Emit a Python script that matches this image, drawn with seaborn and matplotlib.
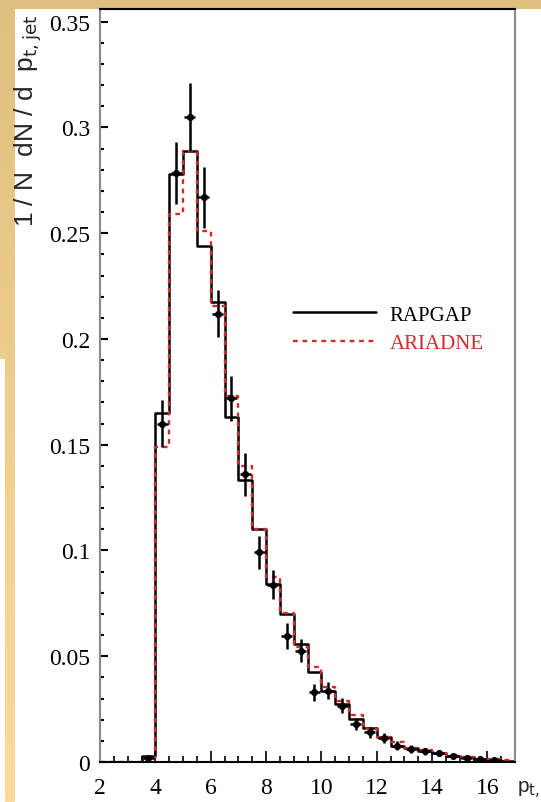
import numpy as np
import pandas as pd
import matplotlib
matplotlib.use("Agg")
import matplotlib.pyplot as plt
import seaborn as sns
from matplotlib.ticker import MultipleLocator, FuncFormatter
from matplotlib.lines import Line2D
from matplotlib.patches import Rectangle

# ==========================
# data
# ==========================
bin_edges = np.arange(2.0, 17.01, 0.5)

rapgap = [0, 0, 0, 0.003,
          0.165, 0.278, 0.289, 0.244, 0.2175, 0.163, 0.1335, 0.110,
          0.084, 0.070, 0.056, 0.0425, 0.0335, 0.0275, 0.0205, 0.016,
          0.0118, 0.0078, 0.0066, 0.0050, 0.0042, 0.0030, 0.0024, 0.0016,
          0.0011, 0.0006]
ariadne = [0, 0, 0, 0.002,
           0.149, 0.259, 0.289, 0.251, 0.2155, 0.173, 0.140, 0.110,
           0.0875, 0.0705, 0.0545, 0.045, 0.0353, 0.029, 0.0222, 0.0156,
           0.0118, 0.0096, 0.0068, 0.0056, 0.0044, 0.0033, 0.0025, 0.0018,
           0.0012, 0.0008]

data_x = [3.75, 4.25, 4.75, 5.25, 5.75, 6.25, 6.75, 7.25, 7.75, 8.25,
          8.75, 9.25, 9.75, 10.25, 10.75, 11.25, 11.75, 12.25, 12.75, 13.25,
          13.75, 14.25, 14.75, 15.25, 15.75, 16.25]
data_y = [0.002, 0.160, 0.2786, 0.305, 0.267, 0.212, 0.172, 0.136, 0.0992, 0.0839,
          0.0596, 0.0527, 0.033, 0.0337, 0.0266, 0.018, 0.014, 0.0114, 0.0077, 0.0061,
          0.0050, 0.0043, 0.0027, 0.0018, 0.0012, 0.0008]
data_err = [0.001, 0.011, 0.0146, 0.016, 0.0145, 0.011, 0.0106, 0.0103, 0.0078, 0.007,
            0.006, 0.0055, 0.004, 0.004, 0.0035, 0.003, 0.0025, 0.0022, 0.002, 0.0018,
            0.0015, 0.0013, 0.001, 0.001, 0.0008, 0.0006]

labels = ["RAPGAP", "ARIADNE"]
RED = "#d42a2a"

# ==========================
# figure
# ==========================
sns.set_style("ticks")
plt.rcParams["font.family"] = ["Liberation Serif", "DejaVu Serif"]
plt.rcParams["mathtext.fontset"] = "dejavusans"

W, H = 541, 803
fig = plt.figure(figsize=(W / 100, H / 100), dpi=100)
fig.patch.set_facecolor("white")

# beige slide frame (top strip + left strip with gradient)
grad = np.linspace(0, 1, 256)[:, None]
c_top = np.array([224, 192, 128]) / 255
c_bot = np.array([252, 218, 155]) / 255
img = c_top[None, None, :] * (1 - grad[..., None]) + c_bot[None, None, :] * grad[..., None]
bg = fig.add_axes([0, 0, 15 / W, 1], zorder=-5)
bg.imshow(img, aspect="auto", extent=[0, 1, 0, 1])
bg.set_axis_off()
fig.patches.append(Rectangle((0, 0), 5 / W, 1 - 360 / H, transform=fig.transFigure,
                             facecolor="white", edgecolor="none", zorder=-1))
fig.patches.append(Rectangle((0, 1 - 10 / H), 1, 10 / H, transform=fig.transFigure,
                             facecolor=tuple(c_top), edgecolor="none", zorder=-1))

ax = fig.add_axes([100 / W, 1 - 763 / H, 415 / W, 753 / H])

# step histograms: one value per bin, last value repeated for the closing edge
df = pd.DataFrame({"edge": bin_edges,
                   "rapgap": rapgap + [rapgap[-1]],
                   "ariadne": ariadne + [ariadne[-1]]})
sns.lineplot(data=df, x="edge", y="rapgap", drawstyle="steps-post", estimator=None,
             color="black", linewidth=1.8, ax=ax)
sns.lineplot(data=df, x="edge", y="ariadne", drawstyle="steps-post", estimator=None,
             color=RED, linewidth=1.7, linestyle=(0, (2, 2)), ax=ax)

ax.errorbar(data_x, data_y, yerr=data_err, xerr=0.2, fmt="none",
            ecolor="black", elinewidth=1.8, capsize=0, zorder=5)
sns.scatterplot(x=data_x, y=data_y, color="black", s=26, edgecolor="black",
                linewidth=0, zorder=6, ax=ax)

ax.set_xlim(2, 17)
ax.set_ylim(0, 0.356)
ax.set_xticks(np.arange(2, 17, 2))
ax.xaxis.set_minor_locator(MultipleLocator(0.5))
ax.yaxis.set_major_locator(MultipleLocator(0.05))
ax.yaxis.set_minor_locator(MultipleLocator(0.01))
ax.yaxis.set_major_formatter(FuncFormatter(lambda v, p: f"{v:g}"))
ax.tick_params(axis="both", which="both", direction="in", colors="black",
               top=False, right=False, labelsize=17)
ax.tick_params(axis="y", which="major", length=6, width=1.5, pad=7)
ax.tick_params(axis="y", which="minor", length=3, width=1.5)
ax.tick_params(axis="x", which="major", length=8, width=1.2, pad=11)
ax.tick_params(axis="x", which="minor", length=4, width=1.2)

for side in ["left", "right"]:
    ax.spines[side].set_color("#8a8a8a")
    ax.spines[side].set_linewidth(1.5)
for side in ["top", "bottom"]:
    ax.spines[side].set_color("black")
    ax.spines[side].set_linewidth(1.5)

ax.set_xlabel("")
ax.set_ylabel(r"1 / N  dN / d  p$_{\mathrm{t,jet}}$", fontsize=19,
              family=["Liberation Sans", "DejaVu Sans"])
ax.yaxis.set_label_coords(-0.135, 0.853)
# x label sits at the far right and runs off the edge, as in the original slide
fig.text(517 / W, 1 - 790 / H, r"p$_{\mathrm{t,jet}}$", fontsize=15,
         family=["Liberation Sans", "DejaVu Sans"], ha="left", va="center")

handles = [Line2D([], [], color="black", linewidth=1.8),
           Line2D([], [], color=RED, linewidth=1.7, linestyle=(0, (2, 2)))]
leg = ax.legend(handles, labels, loc="upper left", bbox_to_anchor=(0.465, 0.607),
                frameon=False, fontsize=15, handlelength=4.0, handletextpad=0.63,
                labelspacing=0.45, borderpad=0, borderaxespad=0,
                labelcolor=["black", RED])

fig.savefig("out.png", dpi=100)
